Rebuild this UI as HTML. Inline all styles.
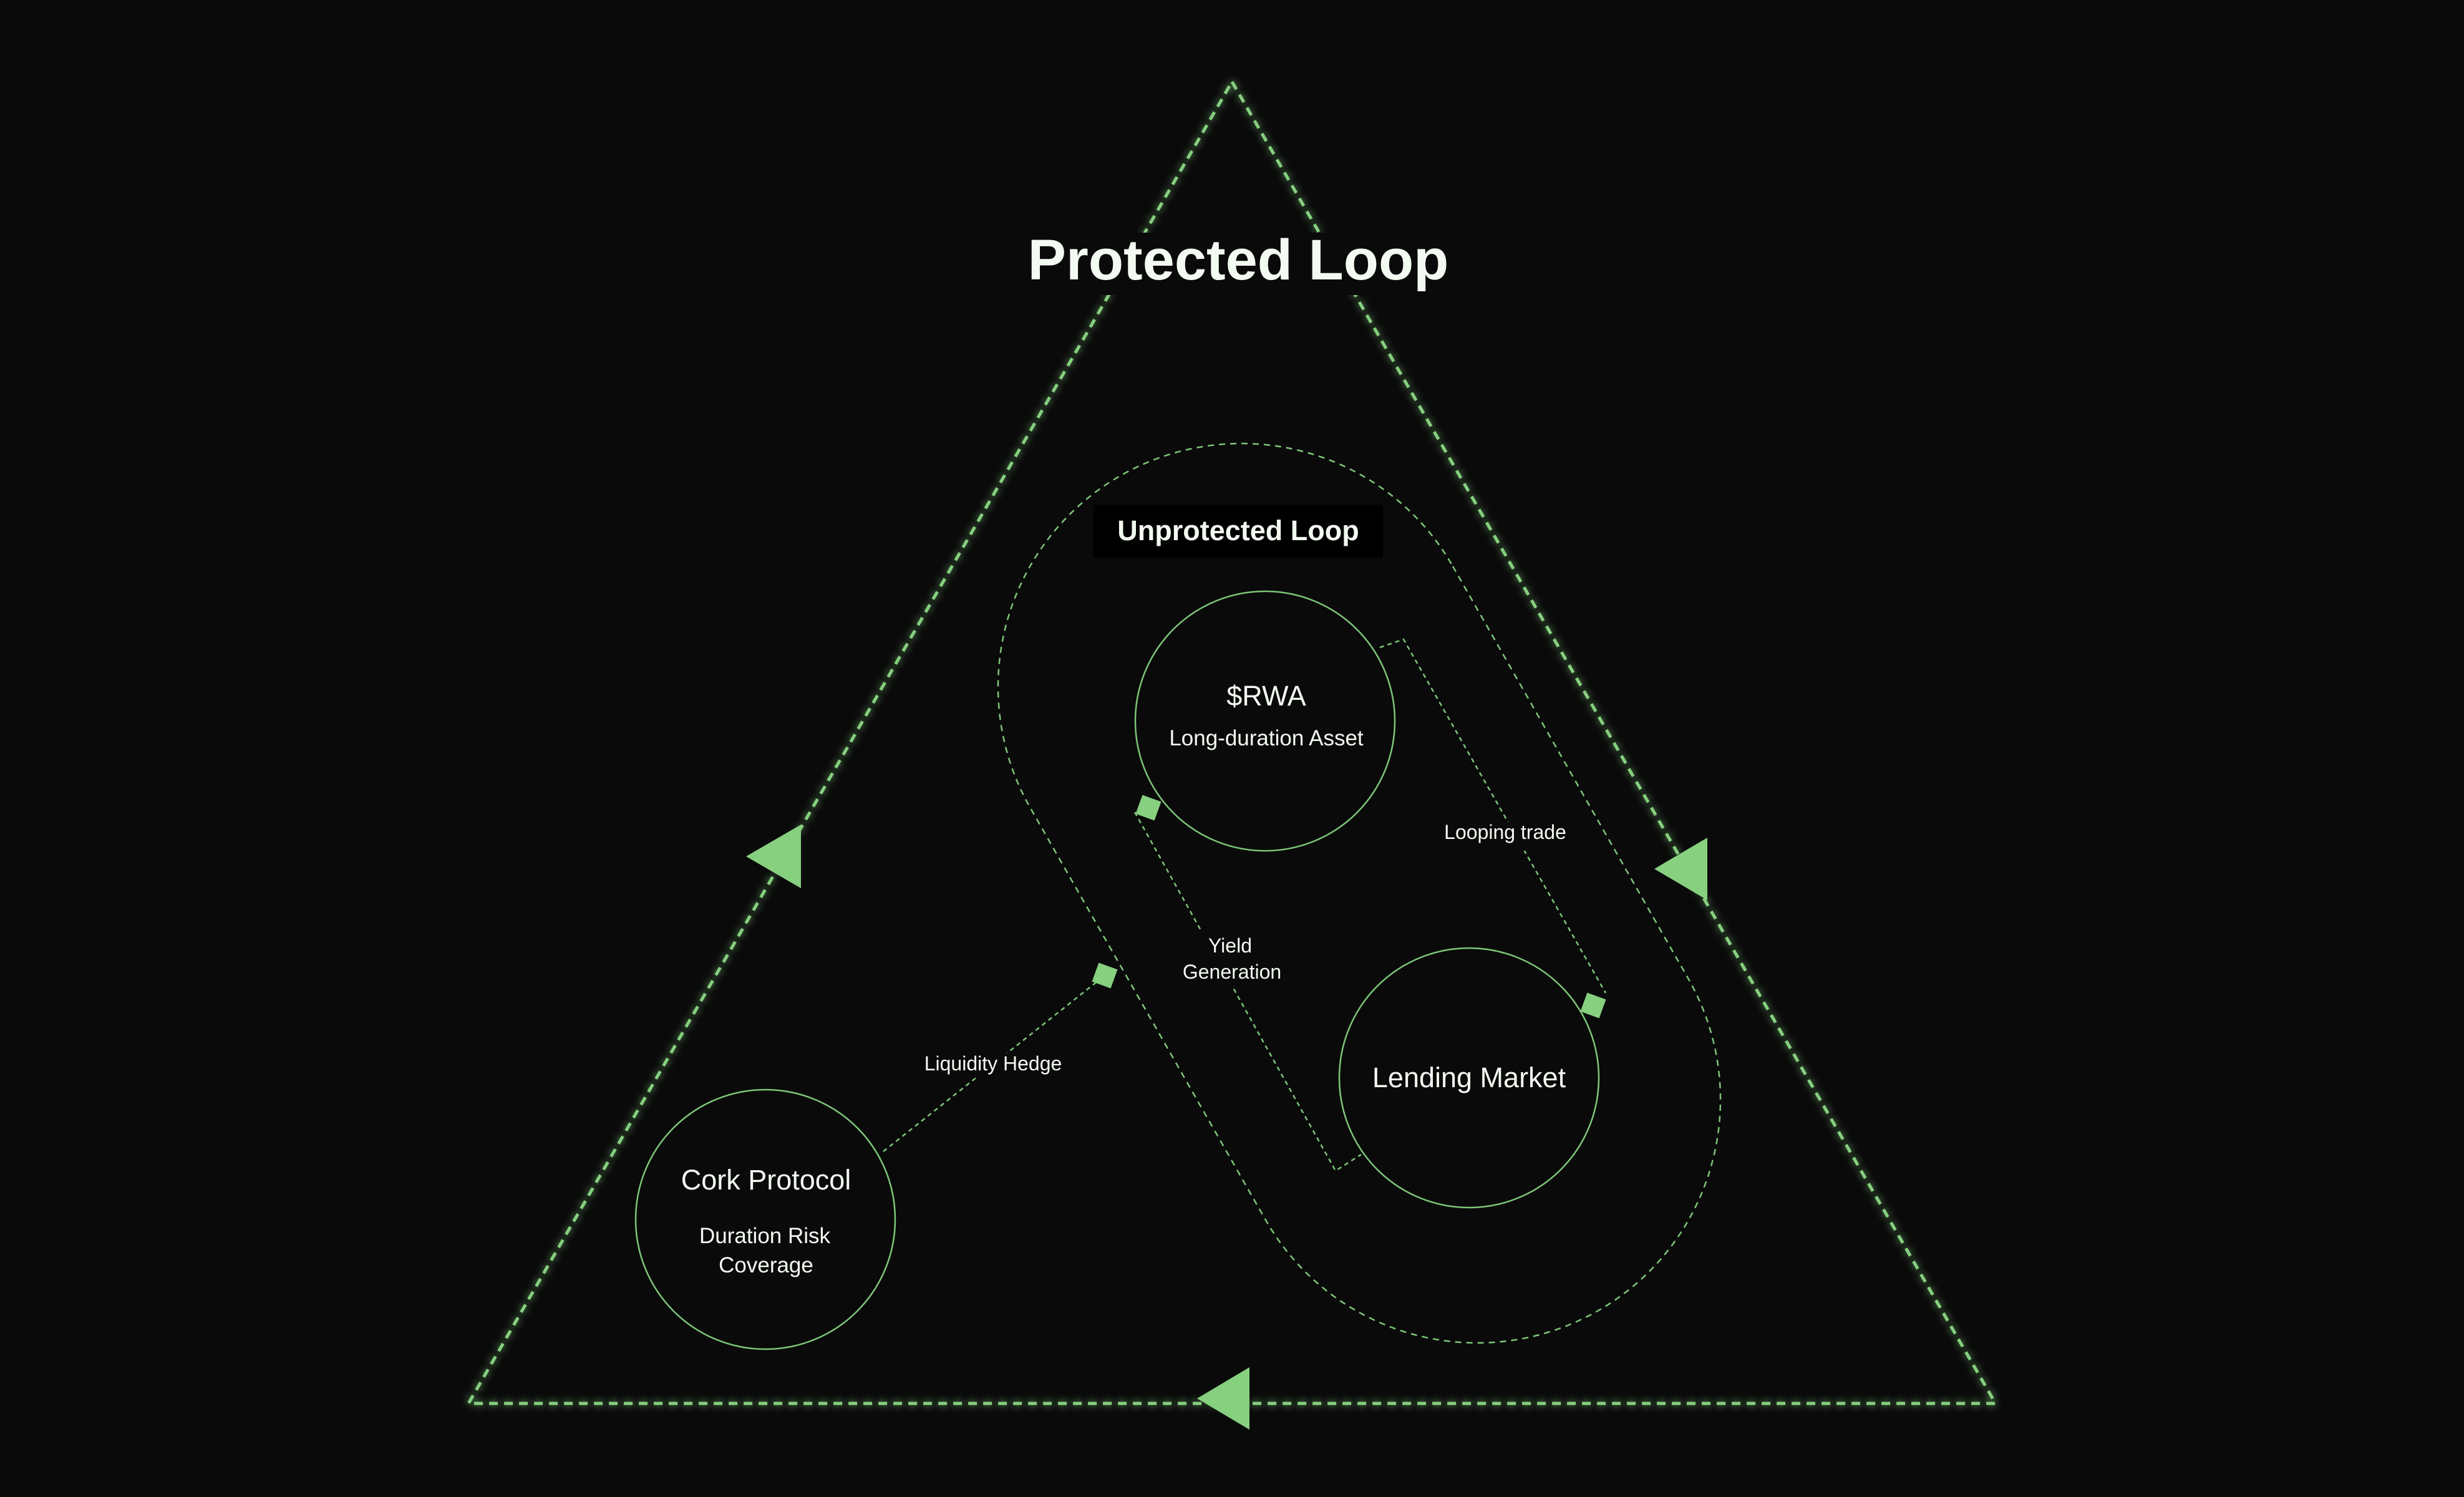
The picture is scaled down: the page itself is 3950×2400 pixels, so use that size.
<!DOCTYPE html>
<html><head><meta charset="utf-8"><style>
html,body{margin:0;padding:0;background:#0a0a0a;}
svg{display:block;}
text{font-family:"Liberation Sans",sans-serif;fill:#f3faf1;}
</style></head><body>
<svg width="3950" height="2400" viewBox="0 0 3950 2400" xmlns="http://www.w3.org/2000/svg">
<defs>
<filter id="glow" x="-10%" y="-10%" width="120%" height="120%">
<feGaussianBlur stdDeviation="6" result="b"/>
<feMerge><feMergeNode in="b"/><feMergeNode in="SourceGraphic"/></feMerge>
</filter>
</defs>
<rect width="3950" height="2400" fill="#0a0a0a"/>
<!-- outer triangle -->
<polygon points="1975,131 3199,2250 751,2250" fill="none" stroke="#86d07f" stroke-width="5" stroke-dasharray="14 10" filter="url(#glow)"/>
<!-- title -->
<rect x="1640" y="373" width="690" height="100" fill="#0a0a0a"/>
<text x="1985" y="448" font-size="92" font-weight="700" text-anchor="middle">Protected Loop</text>
<!-- stadium -->
<path d="M2329,908 L2707,1570 A390,390 0 0 1 2029,1956 L1651,1294 A390,390 0 0 1 2329,908 Z" fill="none" stroke="#7cc677" stroke-width="2.5" stroke-dasharray="10 8"/>
<rect x="1753" y="809" width="464" height="85" fill="#000"/>
<text x="1985" y="866" font-size="45" font-weight="700" text-anchor="middle">Unprotected Loop</text>
<!-- circles -->
<circle cx="2028" cy="1156" r="208" fill="#0a0a0a" stroke="#7cc677" stroke-width="2.5"/>
<circle cx="2355" cy="1728" r="208" fill="#0a0a0a" stroke="#7cc677" stroke-width="2.5"/>
<circle cx="1227" cy="1955" r="208" fill="#0a0a0a" stroke="#7cc677" stroke-width="2.5"/>
<text x="2030" y="1131" font-size="45" text-anchor="middle">$RWA</text>
<text x="2030" y="1195" font-size="35" text-anchor="middle">Long-duration Asset</text>
<text x="2355" y="1743" font-size="45" text-anchor="middle">Lending Market</text>
<text x="1228" y="1907" font-size="45" text-anchor="middle">Cork Protocol</text>
<text x="1226" y="1993" font-size="35" text-anchor="middle">Duration Risk</text>
<text x="1228" y="2040" font-size="35" text-anchor="middle">Coverage</text>
<!-- connectors -->
<g fill="none" stroke="#7cc677" stroke-width="2.5" stroke-dasharray="7 6">
<polyline points="2212,1038 2250,1025 2574,1592"/>
<polyline points="1819,1302 2141,1877 2182,1851"/>
<polyline points="1416,1846 1771,1564"/>
</g>
<rect x="2302" y="1318" width="220" height="46" fill="#0a0a0a"/>
<text x="2413" y="1345" font-size="32" text-anchor="middle">Looping trade</text>
<rect x="1880" y="1490" width="190" height="95" fill="#0a0a0a"/>
<text x="1972" y="1527" font-size="32" text-anchor="middle">Yield</text>
<text x="1975" y="1569" font-size="32" text-anchor="middle">Generation</text>
<rect x="1470" y="1688" width="245" height="40" fill="#0a0a0a"/>
<text x="1592" y="1716" font-size="32" text-anchor="middle">Liquidity Hedge</text>
<!-- squares -->
<g fill="#86d07f">
<rect x="-16" y="-16" width="32" height="32" transform="translate(2554,1612) rotate(20)"/>
<rect x="-16" y="-16" width="32" height="32" transform="translate(1841,1295) rotate(20)"/>
<rect x="-16" y="-16" width="32" height="32" transform="translate(1771,1564) rotate(20)"/>
</g>
<!-- arrowheads -->
<g fill="#86d07f">
<polygon points="1196,1373 1284,1322 1284,1424"/>
<polygon points="2652,1393 2737,1343 2737,1443"/>
<polygon points="1919,2242 2003,2192 2003,2292"/>
</g>
</svg>
</body></html>
